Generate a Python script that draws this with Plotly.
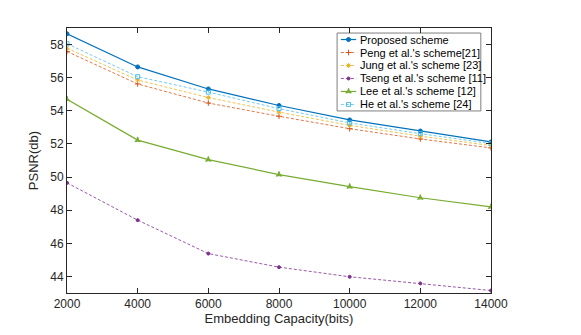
import plotly.graph_objects as go

capacity = [2000, 4000, 6000, 8000, 10000, 12000, 14000]
capacity_labels = ["2000", "4000", "6000", "8000", "10000", "12000", "14000"]

proposed = [58.65, 56.65, 55.32, 54.32, 53.45, 52.78, 52.12]
peng = [57.58, 55.62, 54.47, 53.67, 52.92, 52.30, 51.76]
jung = [57.78, 55.86, 54.80, 53.92, 53.12, 52.47, 51.90]
tseng = [49.65, 47.40, 45.38, 44.56, 43.98, 43.58, 43.15]
lee = [54.70, 52.23, 51.05, 50.15, 49.42, 48.75, 48.20]
he = [58.05, 56.06, 55.13, 54.13, 53.27, 52.62, 52.02]

names = [
    "Proposed scheme",
    "Peng et al.'s scheme[21]",
    "Jung et al.'s scheme [23]",
    "Tseng et al.'s scheme [11]",
    "Lee et al.'s scheme [12]",
    "He et al.'s scheme [24]",
]

series = [proposed, peng, jung, tseng, lee, he]
colors = ["#0072BD", "#D95319", "#EDB120", "#7E2F8E", "#77AC30", "#4DBEEE"]
dashes = ["solid", "dash", "dash", "dash", "solid", "dash"]
symbols = ["circle", "cross-thin", "asterisk-open", "circle", "star-triangle-up", "square-open"]
sizes = [4, 4, 4, 3, 4, 4]

FONT = "Liberation Sans, Arial"
TEXT = "#262626"

fig = go.Figure()
for ys, name, col, dash, sym, sz in zip(series, names, colors, dashes, symbols, sizes):
    fig.add_trace(
        go.Scatter(
            x=capacity,
            y=ys,
            mode="lines+markers",
            name=name,
            showlegend=False,
            line=dict(color=col, width=1.2 if dash == "solid" else 0.8, dash="solid" if dash == "solid" else "3px,2px"),
            marker=dict(symbol=sym, size=sz, color=col, line=dict(color=col, width=1)),
        )
    )

# compact MATLAB-style legend drawn on an overlay axis (0..1 in both directions)
lg_x0, lg_x1 = 0.637, 0.976
lg_y0, lg_y1 = 0.687, 0.981
row_h = (lg_y1 - lg_y0) / 6
fig.add_shape(type="rect", xref="paper", yref="paper", x0=lg_x0, x1=lg_x1, y0=lg_y0, y1=lg_y1,
              line=dict(color="#7f7f7f", width=1), fillcolor="white", layer="below")
for i, (name, col, dash, sym, sz) in enumerate(zip(names, colors, dashes, symbols, sizes)):
    yc = lg_y1 - row_h * (i + 0.5)
    fig.add_trace(
        go.Scatter(
            x=[0.646, 0.664, 0.682],
            y=[yc, yc, yc],
            xaxis="x2",
            yaxis="y2",
            mode="lines",
            showlegend=False,
            hoverinfo="skip",
            line=dict(color=col, width=1.2 if dash == "solid" else 0.8, dash="solid" if dash == "solid" else "3px,2px"),
        )
    )
    fig.add_trace(
        go.Scatter(
            x=[0.664],
            y=[yc],
            xaxis="x2",
            yaxis="y2",
            mode="markers",
            showlegend=False,
            hoverinfo="skip",
            marker=dict(symbol=sym, size=sz, color=col, line=dict(color=col, width=1)),
        )
    )
    fig.add_annotation(x=0.686, y=yc, xref="paper", yref="paper", text=name, showarrow=False,
                       xanchor="left", yanchor="middle", font=dict(family=FONT, size=11, color="#000000"))

axis_common = dict(
    showline=True,
    linecolor=TEXT,
    linewidth=1,
    mirror="ticks",
    ticks="inside",
    ticklen=5,
    tickcolor=TEXT,
    showgrid=False,
    zeroline=False,
    tickfont=dict(family=FONT, size=12, color=TEXT),
)

fig.update_xaxes(
    range=[2000, 14000],
    tickvals=capacity,
    ticktext=capacity_labels,
    title=dict(text="Embedding Capacity(bits)", font=dict(family=FONT, size=13, color=TEXT), standoff=0),
    **axis_common,
)
fig.update_yaxes(
    range=[43, 59],
    dtick=2,
    title=dict(text="PSNR(db)", font=dict(family=FONT, size=13, color=TEXT), standoff=8),
    **axis_common,
)

fig.update_layout(
    width=581,
    height=335,
    margin={"l": 59, "r": 98, "t": 20, "b": 50},
    paper_bgcolor="white",
    plot_bgcolor="white",
    font=dict(family=FONT, color=TEXT),
    xaxis2=dict(overlaying="x", range=[0, 1], visible=False, fixedrange=True),
    yaxis2=dict(overlaying="y", range=[0, 1], visible=False, fixedrange=True),
)

fig.write_html("out.html")
